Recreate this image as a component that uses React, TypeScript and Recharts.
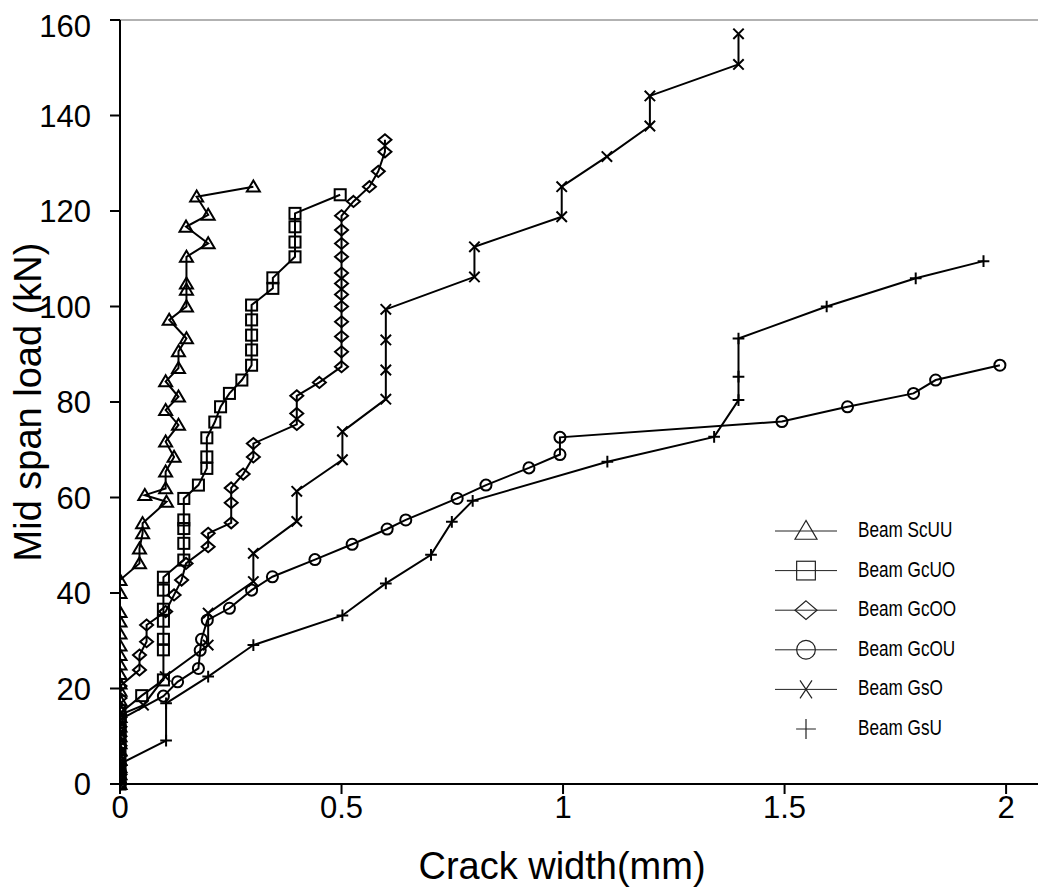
import React from 'react';
import { LineChart, Line, XAxis, YAxis, ReferenceLine, Legend } from 'recharts';

type Pt = [number, number];
type Kind = 'triangle' | 'square' | 'diamond' | 'circle' | 'cross' | 'plus';

const xTicks = [0, 0.5, 1, 1.5, 2];
const yTicks = [0, 20, 40, 60, 80, 100, 120, 140, 160];

// crack width (mm), mid span load (kN)
const beamScUU: Pt[] = [
  [0, 0], [0, 1], [0, 2], [0, 3.5], [0, 5], [0, 7], [0, 8.5], [0, 10], [0, 12], [0, 14],
  [0, 15.5], [0, 17.5], [0, 19.5], [0, 21], [0, 23], [0, 25], [0, 27], [0, 29], [0, 31.5],
  [0, 34], [0, 36], [0, 40], [0, 42.7], [0.044, 46.2], [0.044, 49.3], [0.051, 52.5],
  [0.051, 54.6], [0.105, 59.1], [0.056, 60.5], [0.103, 61.9], [0.103, 65.4], [0.122, 68.5],
  [0.103, 71.7], [0.132, 75.2], [0.103, 78.3], [0.132, 81.1], [0.103, 84.3], [0.132, 87.1],
  [0.132, 90.6], [0.15, 93.3], [0.111, 97.2], [0.15, 100], [0.15, 103.5], [0.15, 104.8],
  [0.15, 110.4], [0.199, 113.2], [0.149, 116.7], [0.199, 119.2], [0.173, 123], [0.301, 125.1],
];

const beamGcUO: Pt[] = [
  [0, 0], [0, 1.5], [0, 3], [0, 5], [0, 7.8], [0, 9.5], [0, 11.3], [0, 13], [0, 14.8],
  [0.049, 18.5], [0.098, 21.8], [0.098, 28.1], [0.098, 30.3], [0.098, 34.1], [0.098, 36.6],
  [0.098, 40.6], [0.098, 43.3], [0.144, 46.9], [0.144, 50.4], [0.144, 53.5], [0.144, 55.3],
  [0.144, 59.8], [0.177, 62.6], [0.196, 66.1], [0.196, 68.5], [0.196, 72.5], [0.214, 75.8],
  [0.227, 79], [0.247, 81.8], [0.275, 84.6], [0.297, 87.7], [0.297, 90.9], [0.297, 94],
  [0.297, 97.2], [0.297, 100.3], [0.345, 103.8], [0.345, 106], [0.395, 110.4], [0.395, 113.5],
  [0.395, 116.7], [0.395, 119.5], [0.497, 123.4],
];

const beamGcOO: Pt[] = [
  [0, 0], [0, 2], [0, 4], [0, 6], [0, 8], [0, 10], [0, 12], [0, 14], [0, 16], [0, 18],
  [0, 20.5], [0.044, 23.9], [0.044, 27], [0.06, 29.8], [0.06, 33.3], [0.103, 36.1],
  [0.122, 39.6], [0.139, 42.7], [0.149, 46.2], [0.199, 49.7], [0.199, 52.5], [0.251, 54.7],
  [0.251, 58.9], [0.251, 62], [0.278, 64.9], [0.301, 68.5], [0.301, 71.3], [0.399, 75.3],
  [0.399, 77.6], [0.399, 81.3], [0.45, 84.1], [0.5, 87.4], [0.5, 90.5], [0.5, 93.7],
  [0.5, 96.8], [0.5, 100], [0.5, 102.5], [0.5, 104.8], [0.5, 107], [0.5, 110.4], [0.5, 113.2],
  [0.5, 116], [0.5, 119], [0.527, 122], [0.563, 125.1], [0.583, 128.3], [0.598, 132.4],
  [0.598, 134.9],
];

const beamGcOU: Pt[] = [
  [0, 0], [0, 1.5], [0, 3], [0, 4.5], [0, 6], [0, 8], [0, 10], [0, 11.5], [0, 13.5],
  [0.098, 18.4], [0.13, 21.4], [0.177, 24.2], [0.181, 28], [0.184, 30.3], [0.197, 34.3],
  [0.247, 36.8], [0.297, 40.6], [0.344, 43.4], [0.44, 47], [0.524, 50.2], [0.603, 53.4],
  [0.645, 55.3], [0.761, 59.8], [0.826, 62.6], [0.923, 66.2], [0.993, 69], [0.993, 72.6],
  [1.494, 75.9], [1.642, 79], [1.791, 81.8], [1.841, 84.6], [1.986, 87.7],
];

const beamGsO: Pt[] = [
  [0, 0], [0, 2], [0, 4], [0, 6], [0, 8], [0, 10], [0, 12], [0, 14.5], [0.053, 16.5],
  [0.102, 22.5], [0.199, 29.1], [0.199, 35.8], [0.301, 42.4], [0.301, 48.3], [0.399, 55],
  [0.399, 61.3], [0.502, 67.9], [0.502, 73.8], [0.6, 80.6], [0.6, 86.7], [0.6, 93],
  [0.6, 99.4], [0.8, 106.2], [0.8, 112.5], [0.997, 118.8], [0.997, 125.1], [1.099, 131.4],
  [1.196, 137.8], [1.196, 144.1], [1.396, 150.7], [1.396, 157.1],
];

const beamGsU: Pt[] = [
  [0, 0], [0, 1.5], [0, 3], [0, 4.2], [0.104, 9.1], [0.104, 16.9], [0.199, 22.5],
  [0.301, 29.1], [0.502, 35.3], [0.6, 42], [0.702, 48], [0.749, 54.9], [0.796, 59.3],
  [1.1, 67.5], [1.341, 72.7], [1.396, 80.4], [1.396, 85.3], [1.396, 93.3], [1.595, 100],
  [1.796, 105.9], [1.949, 109.5],
];

const series: { name: string; data: Pt[]; kind: Kind; legendLine: boolean }[] = [
  { name: 'Beam ScUU', data: beamScUU, kind: 'triangle', legendLine: true },
  { name: 'Beam GcUO', data: beamGcUO, kind: 'square', legendLine: true },
  { name: 'Beam GcOO', data: beamGcOO, kind: 'diamond', legendLine: true },
  { name: 'Beam GcOU', data: beamGcOU, kind: 'circle', legendLine: true },
  { name: 'Beam GsO', data: beamGsO, kind: 'cross', legendLine: true },
  { name: 'Beam GsU', data: beamGsU, kind: 'plus', legendLine: false },
];

const FONT = '"Liberation Sans", Arial, sans-serif';

function Marker({ kind, cx, cy, s, sw, color }: { kind: Kind; cx: number; cy: number; s: number; sw: number; color: string }) {
  const h = s / 2;
  const common = { fill: 'none', stroke: color, strokeWidth: sw };
  switch (kind) {
    case 'triangle':
      return <polygon points={`${cx},${cy - h * 0.95} ${cx - h},${cy + h * 0.75} ${cx + h},${cy + h * 0.75}`} {...common} />;
    case 'square':
      return <rect x={cx - h * 0.85} y={cy - h * 0.85} width={h * 1.7} height={h * 1.7} {...common} />;
    case 'diamond':
      return <polygon points={`${cx},${cy - h * 0.85} ${cx + h},${cy} ${cx},${cy + h * 0.85} ${cx - h},${cy}`} {...common} />;
    case 'circle':
      return <circle cx={cx} cy={cy} r={h * 0.85} {...common} />;
    case 'cross':
      return <path d={`M${cx - h * 0.8},${cy - h * 0.8}L${cx + h * 0.8},${cy + h * 0.8}M${cx + h * 0.8},${cy - h * 0.8}L${cx - h * 0.8},${cy + h * 0.8}`} {...common} />;
    case 'plus':
      return <path d={`M${cx - h * 0.9},${cy}L${cx + h * 0.9},${cy}M${cx},${cy - h * 0.9}L${cx},${cy + h * 0.9}`} {...common} />;
  }
  return null;
}

function LegendMarker({ kind, cx, cy }: { kind: Kind; cx: number; cy: number }) {
  // legend symbols are drawn larger and thinner than the plot markers
  if (kind === 'cross') {
    return <path d={`M${cx - 6},${cy - 9}L${cx + 6},${cy + 9}M${cx + 6},${cy - 9}L${cx - 6},${cy + 9}`} fill="none" stroke="#222" strokeWidth={1.2} />;
  }
  return <Marker kind={kind} cx={cx} cy={cy} s={22} sw={1.2} color="#222" />;
}

function LegendBox() {
  return (
    <svg width={270} height={240} style={{ display: 'block' }}>
      {series.map((s, i) => {
        const y = 18 + i * 39.6;
        return (
          <g key={s.name}>
            {s.legendLine && <line x1={7} x2={69} y1={y} y2={y} stroke="#222" strokeWidth={1} />}
            <LegendMarker kind={s.kind} cx={38} cy={y} />
            <text transform={`translate(90, ${y + 6}) scale(0.78, 1)`} fontSize={22} fontFamily={FONT} fill="#000">
              {s.name}
            </text>
          </g>
        );
      })}
    </svg>
  );
}

export default function App() {
  return (
    <div style={{ position: 'absolute', left: 8, top: 8, width: 1030, height: 881, background: '#fff' }}>
      <LineChart width={1030} height={881} margin={{ top: 12, right: 0, bottom: 0, left: 0 }}>
        <XAxis
          dataKey="x"
          type="number"
          domain={[0, 2.072]}
          ticks={xTicks}
          allowDataOverflow
          height={105}
          tickSize={10}
          tickMargin={2}
          axisLine={{ stroke: '#000', strokeWidth: 2 }}
          tickLine={{ stroke: '#000', strokeWidth: 2 }}
          tick={{ fill: '#000', fontSize: 31, fontFamily: FONT }}
          label={{
            content: () => (
              <text x={554} y={871} textAnchor="middle" fontSize={38} fontFamily={FONT} fill="#000">
                Crack width(mm)
              </text>
            ),
          }}
        />
        <YAxis
          type="number"
          domain={[0, 160]}
          ticks={yTicks}
          width={112}
          tickSize={10}
          tickMargin={19}
          axisLine={{ stroke: '#000', strokeWidth: 2 }}
          tickLine={{ stroke: '#000', strokeWidth: 2 }}
          tick={{ fill: '#000', fontSize: 31, fontFamily: FONT }}
          label={{
            content: () => (
              <text x={33} y={394} transform="rotate(-90, 33, 394)" textAnchor="middle" fontSize={38} fontFamily={FONT} fill="#000">
                Mid span load (kN)
              </text>
            ),
          }}
        />
        <ReferenceLine y={160} stroke="#999" strokeWidth={1.5} />
        {series.map((s) => (
          <Line
            key={s.name}
            name={s.name}
            data={s.data.map(([x, y]) => ({ x, y }))}
            dataKey="y"
            type="linear"
            stroke="#000"
            strokeWidth={2}
            isAnimationActive={false}
            dot={(p: any) => (
              <Marker key={`${s.name}-${p.index}`} kind={s.kind} cx={p.cx} cy={p.cy} s={13} sw={2} color="#000" />
            )}
            activeDot={false}
          />
        ))}
        <Legend
          layout="vertical"
          align="center"
          verticalAlign="middle"
          wrapperStyle={{ position: 'absolute', left: 760, top: 505, width: 270 }}
          content={() => <LegendBox />}
        />
      </LineChart>
    </div>
  );
}
